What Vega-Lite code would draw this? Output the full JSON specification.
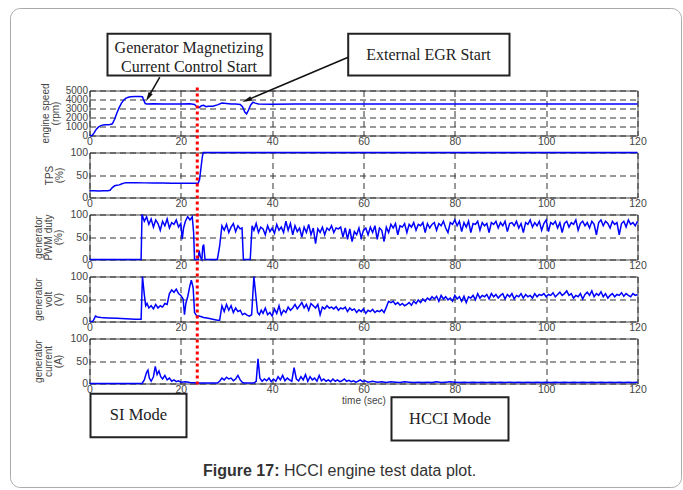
{
  "$schema": "https://vega.github.io/schema/vega-lite/v6.json",
  "padding": {"left": 8.5, "top": 7.5, "right": 2, "bottom": 2},
  "background": "white",
  "spacing": 17,
  "bounds": "flush",
  "config": {
    "view": {"stroke": "#444", "strokeWidth": 1},
    "axis": {
      "labelFont": "Liberation Sans", "labelFontSize": 10.5, "labelColor": "#444",
      "titleFont": "Liberation Sans", "titleFontSize": 10, "titleFontWeight": "normal", "titleColor": "#444", "titleLineHeight": 10,
      "grid": true, "gridColor": "#333", "gridDash": [6, 4], "gridWidth": 1,
      "ticks": false, "domain": false, "labelPadding": 2, "labelFlush": false, "labelOverlap": false
    },
    "axisX": {"labelPadding": 1},
    "axisY": {"titleX": -46, "titleY": 22.5, "titleAngle": 270, "titleAlign": "center", "titleBaseline": "bottom"}
  },
  "datasets": {
    "speed": [
      {"t":0,"v":0},{"t":0.6,"v":0},{"t":1,"v":300},{"t":1.5,"v":700},{"t":2,"v":950},{"t":2.5,"v":1100},{"t":3,"v":1180},{"t":3.5,"v":1200},{"t":4,"v":1200},{"t":4.5,"v":1220},{"t":5,"v":1300},{"t":5.5,"v":1800},{"t":6,"v":2500},{"t":6.5,"v":3100},{"t":7,"v":3600},{"t":7.5,"v":3950},{"t":8,"v":4150},{"t":8.5,"v":4250},{"t":9,"v":4300},{"t":10,"v":4320},{"t":11,"v":4320},{"t":11.6,"v":4300},{"t":11.9,"v":3900},{"t":12.2,"v":3550},{"t":12.6,"v":3500},{"t":14,"v":3520},{"t":16,"v":3500},{"t":18,"v":3510},{"t":20,"v":3500},{"t":22,"v":3520},{"t":23,"v":3450},{"t":23.5,"v":3200},{"t":24,"v":3100},{"t":24.5,"v":3300},{"t":25,"v":3350},{"t":25.5,"v":3200},{"t":26,"v":3250},{"t":27,"v":3250},{"t":28,"v":3400},{"t":29,"v":3600},{"t":30,"v":3550},{"t":31,"v":3500},{"t":32,"v":3500},{"t":33,"v":3450},{"t":33.5,"v":3200},{"t":34,"v":2600},{"t":34.4,"v":2400},{"t":34.8,"v":2800},{"t":35.3,"v":3400},{"t":35.8,"v":3700},{"t":36.3,"v":3600},{"t":37,"v":3500},{"t":40,"v":3480},{"t":45,"v":3510},{"t":50,"v":3490},{"t":55,"v":3500},{"t":60,"v":3510},{"t":65,"v":3490},{"t":70,"v":3500},{"t":75,"v":3510},{"t":80,"v":3490},{"t":85,"v":3500},{"t":90,"v":3510},{"t":95,"v":3490},{"t":100,"v":3500},{"t":105,"v":3510},{"t":110,"v":3490},{"t":115,"v":3500},{"t":120,"v":3500}
    ],
    "tps": [
      {"t":0,"v":15},{"t":1,"v":15},{"t":2,"v":14.5},{"t":3,"v":15},{"t":4,"v":15},{"t":4.5,"v":16},{"t":5,"v":22},{"t":5.5,"v":26},{"t":6,"v":27},{"t":6.5,"v":28},{"t":7,"v":30},{"t":7.5,"v":32},{"t":8,"v":33},{"t":9,"v":33},{"t":10,"v":33},{"t":12,"v":32.5},{"t":14,"v":32},{"t":16,"v":32},{"t":18,"v":31.5},{"t":20,"v":31.5},{"t":22,"v":31.5},{"t":23.8,"v":31.5},{"t":24.1,"v":40},{"t":24.4,"v":65},{"t":24.7,"v":90},{"t":24.9,"v":100},{"t":120,"v":100}
    ],
    "pwm": [
      {"t":0,"v":0},{"t":11.3,"v":0},{"t":11.5,"v":100},{"t":12,"v":85},{"t":12.5,"v":95},{"t":13,"v":78},{"t":13.5,"v":90},{"t":14,"v":72},{"t":14.5,"v":88},{"t":15,"v":80},{"t":15.5,"v":65},{"t":16,"v":85},{"t":16.5,"v":75},{"t":17,"v":90},{"t":17.5,"v":70},{"t":18,"v":82},{"t":18.5,"v":78},{"t":19,"v":88},{"t":19.5,"v":72},{"t":20,"v":80},{"t":20.3,"v":45},{"t":20.6,"v":70},{"t":21,"v":85},{"t":21.5,"v":95},{"t":22,"v":88},{"t":22.5,"v":95},{"t":22.8,"v":60},{"t":23,"v":0},{"t":23.8,"v":0},{"t":24,"v":20},{"t":24.3,"v":5},{"t":24.6,"v":0},{"t":24.8,"v":28},{"t":25,"v":33},{"t":25.3,"v":0},{"t":28,"v":0},{"t":28.5,"v":30},{"t":29,"v":75},{"t":29.5,"v":65},{"t":30,"v":78},{"t":30.5,"v":60},{"t":31,"v":72},{"t":31.5,"v":80},{"t":32,"v":62},{"t":32.5,"v":75},{"t":33,"v":68},{"t":33.4,"v":70},{"t":33.7,"v":0},{"t":35.2,"v":0},{"t":35.6,"v":75},{"t":36,"v":65},{"t":36.5,"v":80},{"t":37,"v":60},{"t":37.5,"v":72},{"t":38,"v":68},{"t":38.5,"v":55},{"t":39,"v":75},{"t":39.5,"v":62},{"t":40,"v":70},{"t":40.5,"v":58},{"t":41,"v":78},{"t":41.5,"v":65},{"t":42,"v":72},{"t":42.5,"v":60},{"t":43,"v":85},{"t":43.5,"v":65},{"t":44,"v":80},{"t":44.5,"v":55},{"t":45,"v":75},{"t":45.5,"v":62},{"t":46,"v":70},{"t":46.5,"v":50},{"t":47,"v":72},{"t":47.5,"v":60},{"t":48,"v":78},{"t":48.5,"v":55},{"t":49,"v":70},{"t":49.5,"v":35},{"t":50,"v":68},{"t":50.5,"v":60},{"t":51,"v":72},{"t":51.5,"v":55},{"t":52,"v":70},{"t":52.5,"v":65},{"t":53,"v":75},{"t":53.5,"v":60},{"t":54,"v":70},{"t":54.5,"v":68},{"t":55,"v":72},{"t":55.5,"v":50},{"t":56,"v":70},{"t":56.5,"v":45},{"t":57,"v":68},{"t":57.5,"v":40},{"t":58,"v":62},{"t":58.5,"v":55},{"t":59,"v":70},{"t":59.5,"v":48},{"t":60,"v":65},{"t":60.5,"v":70},{"t":61,"v":55},{"t":61.5,"v":72},{"t":62,"v":60},{"t":62.5,"v":75},{"t":63,"v":45},{"t":63.5,"v":70},{"t":64,"v":65},{"t":64.5,"v":40},{"t":65,"v":72},{"t":65.5,"v":60},{"t":66,"v":78},{"t":66.5,"v":70},{"t":67,"v":80},{"t":67.5,"v":55},{"t":68,"v":75},{"t":68.5,"v":72},{"t":69,"v":80},{"t":69.5,"v":60},{"t":70,"v":78},{"t":70.5,"v":72},{"t":71,"v":82},{"t":71.5,"v":65},{"t":72,"v":78},{"t":72.5,"v":75},{"t":73,"v":82},{"t":73.5,"v":60},{"t":74,"v":80},{"t":74.5,"v":70},{"t":75,"v":78},{"t":75.5,"v":82},{"t":76,"v":65},{"t":76.5,"v":80},{"t":77,"v":75},{"t":77.5,"v":85},{"t":78,"v":70},{"t":78.5,"v":60},{"t":79,"v":82},{"t":79.5,"v":78},{"t":80,"v":88},{"t":80.5,"v":75},{"t":81,"v":85},{"t":81.5,"v":62},{"t":82,"v":82},{"t":82.5,"v":72},{"t":83,"v":85},{"t":83.5,"v":60},{"t":84,"v":80},{"t":84.5,"v":78},{"t":85,"v":85},{"t":85.5,"v":65},{"t":86,"v":82},{"t":86.5,"v":75},{"t":87,"v":80},{"t":87.5,"v":60},{"t":88,"v":82},{"t":88.5,"v":78},{"t":89,"v":85},{"t":89.5,"v":70},{"t":90,"v":82},{"t":90.5,"v":75},{"t":91,"v":85},{"t":91.5,"v":62},{"t":92,"v":80},{"t":92.5,"v":82},{"t":93,"v":75},{"t":93.5,"v":85},{"t":94,"v":70},{"t":94.5,"v":80},{"t":95,"v":60},{"t":95.5,"v":82},{"t":96,"v":78},{"t":96.5,"v":88},{"t":97,"v":72},{"t":97.5,"v":82},{"t":98,"v":75},{"t":98.5,"v":85},{"t":99,"v":65},{"t":99.5,"v":80},{"t":100,"v":88},{"t":100.5,"v":62},{"t":101,"v":82},{"t":101.5,"v":78},{"t":102,"v":85},{"t":102.5,"v":70},{"t":103,"v":82},{"t":103.5,"v":60},{"t":104,"v":80},{"t":104.5,"v":85},{"t":105,"v":72},{"t":105.5,"v":82},{"t":106,"v":78},{"t":106.5,"v":88},{"t":107,"v":65},{"t":107.5,"v":80},{"t":108,"v":85},{"t":108.5,"v":75},{"t":109,"v":82},{"t":109.5,"v":70},{"t":110,"v":85},{"t":110.5,"v":78},{"t":111,"v":55},{"t":111.5,"v":82},{"t":112,"v":88},{"t":112.5,"v":75},{"t":113,"v":85},{"t":113.5,"v":80},{"t":114,"v":70},{"t":114.5,"v":85},{"t":115,"v":78},{"t":115.5,"v":82},{"t":116,"v":55},{"t":116.5,"v":80},{"t":117,"v":85},{"t":117.5,"v":72},{"t":118,"v":88},{"t":118.5,"v":78},{"t":119,"v":82},{"t":119.5,"v":75},{"t":120,"v":85}
    ],
    "volt": [
      {"t":0,"v":0},{"t":0.7,"v":0},{"t":1,"v":5},{"t":1.3,"v":12},{"t":1.7,"v":10},{"t":2.5,"v":9},{"t":4,"v":8},{"t":6,"v":7},{"t":8,"v":6},{"t":10,"v":5},{"t":11.3,"v":5},{"t":11.6,"v":100},{"t":12,"v":60},{"t":12.3,"v":35},{"t":12.6,"v":40},{"t":13,"v":30},{"t":13.5,"v":35},{"t":14,"v":28},{"t":14.5,"v":38},{"t":15,"v":30},{"t":15.5,"v":35},{"t":16,"v":32},{"t":16.5,"v":40},{"t":17,"v":38},{"t":17.5,"v":62},{"t":18,"v":70},{"t":18.5,"v":65},{"t":19,"v":72},{"t":19.5,"v":62},{"t":20,"v":58},{"t":20.5,"v":50},{"t":20.8,"v":15},{"t":21.1,"v":40},{"t":21.5,"v":55},{"t":22,"v":80},{"t":22.3,"v":92},{"t":22.7,"v":75},{"t":23,"v":20},{"t":23.5,"v":12},{"t":24,"v":12},{"t":25,"v":9},{"t":26,"v":7},{"t":27,"v":5},{"t":28,"v":3},{"t":28.5,"v":3},{"t":29,"v":35},{"t":29.5,"v":22},{"t":30,"v":38},{"t":30.5,"v":25},{"t":31,"v":35},{"t":31.5,"v":20},{"t":32,"v":30},{"t":32.5,"v":22},{"t":33,"v":25},{"t":33.5,"v":15},{"t":34,"v":18},{"t":34.5,"v":14},{"t":35,"v":12},{"t":35.5,"v":15},{"t":36,"v":100},{"t":36.4,"v":60},{"t":36.8,"v":20},{"t":37.2,"v":15},{"t":37.6,"v":25},{"t":38,"v":18},{"t":38.5,"v":30},{"t":39,"v":15},{"t":39.5,"v":20},{"t":40,"v":12},{"t":40.5,"v":28},{"t":41,"v":18},{"t":41.5,"v":35},{"t":42,"v":15},{"t":42.5,"v":25},{"t":43,"v":20},{"t":43.5,"v":32},{"t":44,"v":25},{"t":44.5,"v":30},{"t":45,"v":38},{"t":45.5,"v":28},{"t":46,"v":35},{"t":46.5,"v":42},{"t":47,"v":30},{"t":47.5,"v":38},{"t":48,"v":25},{"t":48.5,"v":40},{"t":49,"v":35},{"t":49.5,"v":30},{"t":50,"v":38},{"t":50.5,"v":15},{"t":51,"v":32},{"t":51.5,"v":28},{"t":52,"v":35},{"t":52.5,"v":30},{"t":53,"v":32},{"t":53.5,"v":28},{"t":54,"v":33},{"t":54.5,"v":25},{"t":55,"v":30},{"t":55.5,"v":28},{"t":56,"v":32},{"t":56.5,"v":22},{"t":57,"v":30},{"t":57.5,"v":25},{"t":58,"v":28},{"t":58.5,"v":20},{"t":59,"v":26},{"t":59.5,"v":22},{"t":60,"v":28},{"t":60.5,"v":18},{"t":61,"v":25},{"t":61.5,"v":22},{"t":62,"v":27},{"t":62.5,"v":20},{"t":63,"v":24},{"t":63.5,"v":22},{"t":64,"v":26},{"t":64.5,"v":20},{"t":65,"v":32},{"t":65.5,"v":45},{"t":66,"v":42},{"t":66.5,"v":45},{"t":67,"v":38},{"t":67.5,"v":42},{"t":68,"v":36},{"t":68.5,"v":40},{"t":69,"v":35},{"t":69.5,"v":38},{"t":70,"v":42},{"t":70.5,"v":36},{"t":71,"v":45},{"t":71.5,"v":40},{"t":72,"v":48},{"t":72.5,"v":42},{"t":73,"v":50},{"t":73.5,"v":45},{"t":74,"v":52},{"t":74.5,"v":48},{"t":75,"v":55},{"t":75.5,"v":50},{"t":76,"v":56},{"t":76.5,"v":45},{"t":77,"v":58},{"t":77.5,"v":50},{"t":78,"v":55},{"t":78.5,"v":48},{"t":79,"v":52},{"t":79.5,"v":45},{"t":80,"v":58},{"t":80.5,"v":50},{"t":81,"v":55},{"t":81.5,"v":45},{"t":82,"v":56},{"t":82.5,"v":42},{"t":83,"v":55},{"t":83.5,"v":52},{"t":84,"v":58},{"t":84.5,"v":48},{"t":85,"v":62},{"t":85.5,"v":52},{"t":86,"v":58},{"t":86.5,"v":55},{"t":87,"v":60},{"t":87.5,"v":50},{"t":88,"v":62},{"t":88.5,"v":55},{"t":89,"v":60},{"t":89.5,"v":52},{"t":90,"v":58},{"t":90.5,"v":62},{"t":91,"v":50},{"t":91.5,"v":60},{"t":92,"v":55},{"t":92.5,"v":62},{"t":93,"v":50},{"t":93.5,"v":58},{"t":94,"v":55},{"t":94.5,"v":62},{"t":95,"v":52},{"t":95.5,"v":60},{"t":96,"v":55},{"t":96.5,"v":58},{"t":97,"v":52},{"t":97.5,"v":62},{"t":98,"v":55},{"t":98.5,"v":60},{"t":99,"v":58},{"t":99.5,"v":62},{"t":100,"v":55},{"t":100.5,"v":60},{"t":101,"v":58},{"t":101.5,"v":64},{"t":102,"v":55},{"t":102.5,"v":60},{"t":103,"v":65},{"t":103.5,"v":58},{"t":104,"v":62},{"t":104.5,"v":68},{"t":105,"v":58},{"t":105.5,"v":62},{"t":106,"v":52},{"t":106.5,"v":58},{"t":107,"v":55},{"t":107.5,"v":62},{"t":108,"v":50},{"t":108.5,"v":60},{"t":109,"v":65},{"t":109.5,"v":58},{"t":110,"v":68},{"t":110.5,"v":55},{"t":111,"v":62},{"t":111.5,"v":58},{"t":112,"v":66},{"t":112.5,"v":55},{"t":113,"v":62},{"t":113.5,"v":52},{"t":114,"v":58},{"t":114.5,"v":62},{"t":115,"v":55},{"t":115.5,"v":60},{"t":116,"v":58},{"t":116.5,"v":64},{"t":117,"v":56},{"t":117.5,"v":62},{"t":118,"v":58},{"t":118.5,"v":55},{"t":119,"v":62},{"t":119.5,"v":58},{"t":120,"v":60}
    ],
    "current": [
      {"t":0,"v":0},{"t":11.5,"v":0},{"t":12,"v":8},{"t":12.5,"v":25},{"t":12.8,"v":30},{"t":13.1,"v":12},{"t":13.5,"v":5},{"t":14,"v":15},{"t":14.4,"v":38},{"t":14.8,"v":20},{"t":15.2,"v":28},{"t":15.6,"v":15},{"t":16,"v":10},{"t":16.5,"v":18},{"t":17,"v":8},{"t":17.5,"v":12},{"t":18,"v":5},{"t":18.5,"v":8},{"t":19,"v":4},{"t":19.5,"v":6},{"t":20,"v":3},{"t":21,"v":4},{"t":22,"v":2},{"t":24,"v":1},{"t":26,"v":1},{"t":28,"v":1},{"t":28.5,"v":5},{"t":29,"v":12},{"t":29.5,"v":8},{"t":30,"v":14},{"t":30.5,"v":10},{"t":31,"v":12},{"t":31.5,"v":6},{"t":32,"v":10},{"t":32.5,"v":18},{"t":33,"v":8},{"t":33.5,"v":2},{"t":34,"v":1},{"t":36,"v":1},{"t":36.5,"v":5},{"t":36.9,"v":55},{"t":37.3,"v":12},{"t":37.8,"v":5},{"t":38.3,"v":10},{"t":38.8,"v":6},{"t":39.3,"v":12},{"t":39.8,"v":4},{"t":40.3,"v":10},{"t":40.8,"v":5},{"t":41.3,"v":15},{"t":41.8,"v":8},{"t":42.3,"v":18},{"t":42.8,"v":6},{"t":43.3,"v":12},{"t":43.8,"v":8},{"t":44.3,"v":5},{"t":44.8,"v":35},{"t":45.3,"v":10},{"t":45.8,"v":6},{"t":46.3,"v":15},{"t":46.8,"v":8},{"t":47.3,"v":20},{"t":47.8,"v":5},{"t":48.3,"v":15},{"t":48.8,"v":8},{"t":49.3,"v":12},{"t":49.8,"v":5},{"t":50.3,"v":18},{"t":50.8,"v":6},{"t":51.3,"v":10},{"t":51.8,"v":5},{"t":52.3,"v":8},{"t":52.8,"v":4},{"t":53.3,"v":10},{"t":53.8,"v":5},{"t":54.3,"v":8},{"t":54.8,"v":4},{"t":55.3,"v":6},{"t":55.8,"v":10},{"t":56.3,"v":5},{"t":56.8,"v":7},{"t":57.3,"v":4},{"t":57.8,"v":6},{"t":58.3,"v":3},{"t":58.8,"v":5},{"t":59.3,"v":8},{"t":59.8,"v":4},{"t":60.3,"v":6},{"t":61,"v":3},{"t":62,"v":5},{"t":63,"v":3},{"t":64,"v":4},{"t":65,"v":2},{"t":66,"v":4},{"t":67,"v":3},{"t":68,"v":2},{"t":69,"v":4},{"t":70,"v":3},{"t":71,"v":2},{"t":72,"v":3},{"t":73,"v":2},{"t":74,"v":3},{"t":75,"v":2},{"t":76,"v":4},{"t":77,"v":2},{"t":78,"v":3},{"t":79,"v":4},{"t":80,"v":3},{"t":81,"v":2},{"t":82,"v":3},{"t":83,"v":2},{"t":84,"v":3},{"t":85,"v":2},{"t":86,"v":3},{"t":87,"v":2},{"t":88,"v":3},{"t":89,"v":2},{"t":90,"v":3},{"t":91,"v":2},{"t":92,"v":3},{"t":93,"v":2},{"t":94,"v":3},{"t":95,"v":2},{"t":96,"v":3},{"t":97,"v":2},{"t":98,"v":3},{"t":99,"v":2},{"t":100,"v":3},{"t":101,"v":2},{"t":102,"v":3},{"t":103,"v":2},{"t":104,"v":3},{"t":105,"v":2},{"t":106,"v":3},{"t":107,"v":2},{"t":108,"v":3},{"t":109,"v":2},{"t":110,"v":3},{"t":111,"v":2},{"t":112,"v":3},{"t":113,"v":2},{"t":114,"v":3},{"t":115,"v":2},{"t":116,"v":3},{"t":117,"v":2},{"t":118,"v":3},{"t":119,"v":2},{"t":120,"v":3}
    ],
    "topboxes": [
      {"t1":3.94,"t2":39.64,"v1":11300,"v2":6667,"label":"Generator Magnetizing\nCurrent Control Start","tc":21.79,"vc":9744},
      {"t1":56.65,"t2":91.97,"v1":11300,"v2":6667,"label":"External EGR Start","tc":74.23,"vc":8967}
    ],
    "arrows": [
      {"id":"a1","t1":15.39,"v1":6478,"t2":12.88,"v2":4256},
      {"id":"a2","t1":56.65,"v1":8700,"t2":34.45,"v2":3922}
    ],
    "modes": [
      {"t1":0.22,"t2":21.24,"v1":-22.9,"v2":-119.3,"label":"SI Mode","tc":10.73,"vc":-71.1},
      {"t1":66.13,"t2":91.75,"v1":-30.4,"v2":-126.7,"label":"HCCI Mode","tc":78.94,"vc":-78.4}
    ],
    "caption": [
      {"part":"bold","label":"Figure 17:","t":41.6,"v":-194.9},
      {"part":"regular","label":"HCCI engine test data plot.","t":42.6,"v":-194.9}
    ],
    "marker": [{"t":23.6,"v1":657.8,"v2":-2.2}],
    "frame": [{"t1":-17.3,"t2":129.64,"v1":833.3,"v2":-231.1}]
  },
  "vconcat": [
    {
      "width": 548, "height": 45,
      "layer": [
        {
          "data": {"name": "speed"},
          "mark": {"type": "line", "color": "#0000ff", "strokeWidth": 1.5},
          "encoding": {
            "x": {"field": "t", "type": "quantitative", "scale": {"domain": [0, 120], "nice": false, "zero": false}, "axis": {"values": [0,20,40,60,80,100,120], "title": null}},
            "y": {"field": "v", "type": "quantitative", "scale": {"domain": [0, 5000], "nice": false}, "axis": {"values": [0,1000,2000,3000,4000,5000], "format": "d", "labelFontSize": 10, "title": ["engine speed", "(rpm)"], "titleX": -39}}
          }
        },
        {
          "data": {"name": "topboxes"},
          "mark": {"type": "rect", "fill": "white", "stroke": "#222", "strokeWidth": 2, "clip": false},
          "encoding": {
            "x": {"field": "t1", "type": "quantitative", "scale": {"domain": [0, 120], "nice": false, "zero": false}, "axis": {"values": [0,20,40,60,80,100,120], "title": null}},
            "x2": {"field": "t2"},
            "y": {"field": "v1", "type": "quantitative", "scale": {"domain": [0, 5000], "nice": false}, "axis": {"values": [0,1000,2000,3000,4000,5000], "format": "d", "labelFontSize": 10, "title": ["engine speed", "(rpm)"], "titleX": -39}},
            "y2": {"field": "v2"}
          }
        },
        {
          "data": {"name": "topboxes"},
          "mark": {"type": "text", "font": "Liberation Serif", "fontSize": 16, "color": "#222", "align": "center", "baseline": "middle", "lineBreak": "\n", "lineHeight": 19, "clip": false},
          "encoding": {
            "x": {"field": "tc", "type": "quantitative", "scale": {"domain": [0, 120], "nice": false, "zero": false}, "axis": {"values": [0,20,40,60,80,100,120], "title": null}},
            "y": {"field": "vc", "type": "quantitative", "scale": {"domain": [0, 5000], "nice": false}, "axis": {"values": [0,1000,2000,3000,4000,5000], "format": "d", "labelFontSize": 10, "title": ["engine speed", "(rpm)"], "titleX": -39}},
            "text": {"field": "label"}
          }
        },
        {
          "data": {"name": "arrows"},
          "mark": {"type": "rule", "color": "#111", "strokeWidth": 1.5, "clip": false},
          "encoding": {
            "x": {"field": "t1", "type": "quantitative", "scale": {"domain": [0, 120], "nice": false, "zero": false}, "axis": {"values": [0,20,40,60,80,100,120], "title": null}},
            "x2": {"field": "t2"},
            "y": {"field": "v1", "type": "quantitative", "scale": {"domain": [0, 5000], "nice": false}, "axis": {"values": [0,1000,2000,3000,4000,5000], "format": "d", "labelFontSize": 10, "title": ["engine speed", "(rpm)"], "titleX": -39}},
            "y2": {"field": "v2"}
          }
        },
        {
          "data": {"name": "arrows"},
          "transform": [{"filter": "datum.id === 'a1'"}],
          "mark": {"type": "point", "shape": "M0,-1L0.5,1L-0.5,1Z", "filled": true, "color": "#111", "opacity": 1, "size": 90, "angle": 210, "clip": false},
          "encoding": {
            "x": {"field": "t2", "type": "quantitative", "scale": {"domain": [0, 120], "nice": false, "zero": false}, "axis": {"values": [0,20,40,60,80,100,120], "title": null}},
            "y": {"field": "v2", "type": "quantitative", "scale": {"domain": [0, 5000], "nice": false}, "axis": {"values": [0,1000,2000,3000,4000,5000], "format": "d", "labelFontSize": 10, "title": ["engine speed", "(rpm)"], "titleX": -39}}
          }
        },
        {
          "data": {"name": "arrows"},
          "transform": [{"filter": "datum.id === 'a2'"}],
          "mark": {"type": "point", "shape": "M0,-1L0.5,1L-0.5,1Z", "filled": true, "color": "#111", "opacity": 1, "size": 90, "angle": 247, "clip": false},
          "encoding": {
            "x": {"field": "t2", "type": "quantitative", "scale": {"domain": [0, 120], "nice": false, "zero": false}, "axis": {"values": [0,20,40,60,80,100,120], "title": null}},
            "y": {"field": "v2", "type": "quantitative", "scale": {"domain": [0, 5000], "nice": false}, "axis": {"values": [0,1000,2000,3000,4000,5000], "format": "d", "labelFontSize": 10, "title": ["engine speed", "(rpm)"], "titleX": -39}}
          }
        }
      ]
    },
    {
      "width": 548, "height": 45,
      "data": {"name": "tps"},
      "mark": {"type": "line", "color": "#0000ff", "strokeWidth": 1.5},
      "encoding": {
        "x": {"field": "t", "type": "quantitative", "scale": {"domain": [0, 120], "nice": false, "zero": false}, "axis": {"values": [0,20,40,60,80,100,120], "title": null}},
        "y": {"field": "v", "type": "quantitative", "scale": {"domain": [0, 100], "nice": false}, "axis": {"values": [0,50,100], "title": ["TPS", "(%)"], "titleX": -35}}
      }
    },
    {
      "width": 548, "height": 45,
      "data": {"name": "pwm"},
      "mark": {"type": "line", "color": "#0000ff", "strokeWidth": 1.5},
      "encoding": {
        "x": {"field": "t", "type": "quantitative", "scale": {"domain": [0, 120], "nice": false, "zero": false}, "axis": {"values": [0,20,40,60,80,100,120], "title": null}},
        "y": {"field": "v", "type": "quantitative", "scale": {"domain": [0, 100], "nice": false}, "axis": {"values": [0,50,100], "title": ["generator", "PWM duty", "(%)"]}}
      }
    },
    {
      "width": 548, "height": 45,
      "data": {"name": "volt"},
      "mark": {"type": "line", "color": "#0000ff", "strokeWidth": 1.5},
      "encoding": {
        "x": {"field": "t", "type": "quantitative", "scale": {"domain": [0, 120], "nice": false, "zero": false}, "axis": {"values": [0,20,40,60,80,100,120], "title": null}},
        "y": {"field": "v", "type": "quantitative", "scale": {"domain": [0, 100], "nice": false}, "axis": {"values": [0,50,100], "title": ["generator", "volt", "(V)"]}}
      }
    },
    {
      "width": 548, "height": 45,
      "layer": [
        {
          "data": {"name": "current"},
          "mark": {"type": "line", "color": "#0000ff", "strokeWidth": 1.5},
          "encoding": {
            "x": {"field": "t", "type": "quantitative", "scale": {"domain": [0, 120], "nice": false, "zero": false}, "axis": {"values": [0,20,40,60,80,100,120], "title": "time (sec)", "titlePadding": 0}},
            "y": {"field": "v", "type": "quantitative", "scale": {"domain": [0, 100], "nice": false}, "axis": {"values": [0,50,100], "title": ["generator", "current", "(A)"]}}
          }
        },
        {
          "data": {"name": "modes"},
          "mark": {"type": "rect", "fill": "white", "stroke": "#222", "strokeWidth": 2, "clip": false},
          "encoding": {
            "x": {"field": "t1", "type": "quantitative", "scale": {"domain": [0, 120], "nice": false, "zero": false}, "axis": {"values": [0,20,40,60,80,100,120], "title": "time (sec)", "titlePadding": 0}},
            "x2": {"field": "t2"},
            "y": {"field": "v1", "type": "quantitative", "scale": {"domain": [0, 100], "nice": false}, "axis": {"values": [0,50,100], "title": ["generator", "current", "(A)"]}},
            "y2": {"field": "v2"}
          }
        },
        {
          "data": {"name": "modes"},
          "mark": {"type": "text", "font": "Liberation Serif", "fontSize": 16.5, "color": "#222", "align": "center", "baseline": "middle", "clip": false},
          "encoding": {
            "x": {"field": "tc", "type": "quantitative", "scale": {"domain": [0, 120], "nice": false, "zero": false}, "axis": {"values": [0,20,40,60,80,100,120], "title": "time (sec)", "titlePadding": 0}},
            "y": {"field": "vc", "type": "quantitative", "scale": {"domain": [0, 100], "nice": false}, "axis": {"values": [0,50,100], "title": ["generator", "current", "(A)"]}},
            "text": {"field": "label"}
          }
        },
        {
          "data": {"name": "caption"},
          "transform": [{"filter": "datum.part === 'bold'"}],
          "mark": {"type": "text", "font": "Liberation Sans", "fontSize": 16, "fontWeight": "bold", "color": "#333", "align": "right", "baseline": "middle", "clip": false},
          "encoding": {
            "x": {"field": "t", "type": "quantitative", "scale": {"domain": [0, 120], "nice": false, "zero": false}, "axis": {"values": [0,20,40,60,80,100,120], "title": "time (sec)", "titlePadding": 0}},
            "y": {"field": "v", "type": "quantitative", "scale": {"domain": [0, 100], "nice": false}, "axis": {"values": [0,50,100], "title": ["generator", "current", "(A)"]}},
            "text": {"field": "label"}
          }
        },
        {
          "data": {"name": "caption"},
          "transform": [{"filter": "datum.part === 'regular'"}],
          "mark": {"type": "text", "font": "Liberation Sans", "fontSize": 16, "color": "#333", "align": "left", "baseline": "middle", "clip": false},
          "encoding": {
            "x": {"field": "t", "type": "quantitative", "scale": {"domain": [0, 120], "nice": false, "zero": false}, "axis": {"values": [0,20,40,60,80,100,120], "title": "time (sec)", "titlePadding": 0}},
            "y": {"field": "v", "type": "quantitative", "scale": {"domain": [0, 100], "nice": false}, "axis": {"values": [0,50,100], "title": ["generator", "current", "(A)"]}},
            "text": {"field": "label"}
          }
        },
        {
          "data": {"name": "marker"},
          "mark": {"type": "rule", "color": "#ff0000", "strokeWidth": 3, "strokeDash": [3, 3], "clip": false},
          "encoding": {
            "x": {"field": "t", "type": "quantitative", "scale": {"domain": [0, 120], "nice": false, "zero": false}, "axis": {"values": [0,20,40,60,80,100,120], "title": "time (sec)", "titlePadding": 0}},
            "y": {"field": "v1", "type": "quantitative", "scale": {"domain": [0, 100], "nice": false}, "axis": {"values": [0,50,100], "title": ["generator", "current", "(A)"]}},
            "y2": {"field": "v2"}
          }
        },
        {
          "data": {"name": "frame"},
          "mark": {"type": "rect", "fill": "transparent", "stroke": "#aaa", "strokeWidth": 1, "cornerRadius": 10, "clip": false},
          "encoding": {
            "x": {"field": "t1", "type": "quantitative", "scale": {"domain": [0, 120], "nice": false, "zero": false}, "axis": {"values": [0,20,40,60,80,100,120], "title": "time (sec)", "titlePadding": 0}},
            "x2": {"field": "t2"},
            "y": {"field": "v1", "type": "quantitative", "scale": {"domain": [0, 100], "nice": false}, "axis": {"values": [0,50,100], "title": ["generator", "current", "(A)"]}},
            "y2": {"field": "v2"}
          }
        }
      ]
    }
  ]
}
